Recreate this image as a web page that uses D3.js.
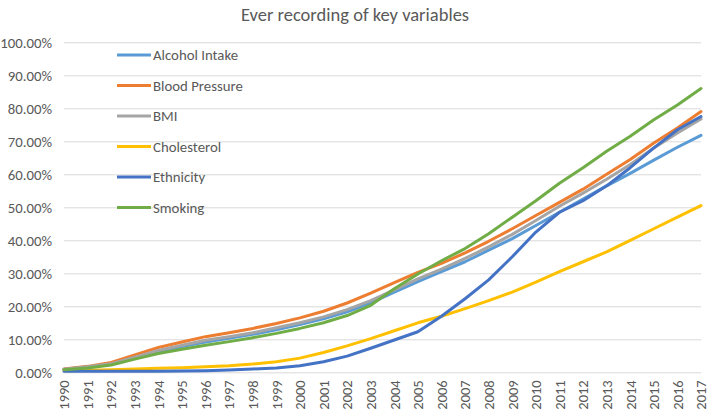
<!DOCTYPE html>
<html>
<head>
<meta charset="utf-8">
<script src="https://cdn.jsdelivr.net/npm/d3@7"></script>
<style>
  html, body { margin: 0; padding: 0; background: #fff; }
  svg { display: block; font-family: Calibri, Carlito, Lato, "Liberation Sans", Arial, sans-serif; }
</style>
</head>
<body>
<svg id="chart" width="709" height="414"></svg>
<script>
const title = "Ever recording of key variables";
const years = d3.range(1990, 2018).map(String);
const yTicks = [0, 10, 20, 30, 40, 50, 60, 70, 80, 90, 100];

const seriesNames = ["Alcohol Intake", "Blood Pressure", "BMI", "Cholesterol", "Ethnicity", "Smoking"];
const seriesColors = ["#5B9BD5", "#ED7D31", "#A5A5A5", "#FFC000", "#4472C4", "#70AD47"];

const alcoholIntake = [0.9, 1.6, 2.5, 4.3, 6.2, 7.8, 9.2, 10.3, 11.5, 12.9, 14.5, 16.2, 18.3, 21.0, 24.3, 27.5, 30.5, 33.5, 37.0, 40.5, 44.5, 48.5, 52.5, 56.5, 60.3, 64.3, 68.2, 71.8];
const bloodPressure = [1.0, 1.8, 3.0, 5.3, 7.5, 9.2, 10.8, 12.0, 13.3, 14.8, 16.5, 18.5, 21.0, 24.0, 27.2, 30.3, 33.0, 36.2, 39.7, 43.5, 47.5, 51.5, 55.5, 60.0, 64.5, 69.5, 74.0, 79.0];
const bmi = [0.9, 1.7, 2.6, 4.6, 6.6, 8.2, 9.7, 10.8, 12.0, 13.5, 15.0, 16.8, 19.0, 21.7, 25.0, 28.3, 31.3, 34.5, 38.0, 41.8, 46.0, 50.3, 54.3, 58.5, 63.0, 68.0, 72.5, 76.8];
const cholesterol = [0.5, 0.6, 0.8, 1.0, 1.2, 1.4, 1.7, 2.0, 2.5, 3.2, 4.3, 6.0, 8.0, 10.2, 12.6, 15.0, 17.0, 19.3, 21.7, 24.3, 27.3, 30.5, 33.5, 36.5, 40.0, 43.5, 47.0, 50.5];
const ethnicity = [0.3, 0.3, 0.3, 0.3, 0.3, 0.4, 0.5, 0.7, 1.0, 1.3, 2.0, 3.2, 4.9, 7.3, 9.8, 12.3, 17.0, 22.3, 28.0, 35.0, 42.5, 48.5, 52.0, 56.5, 62.0, 68.0, 73.5, 77.5];
const smoking = [0.8, 1.3, 2.2, 4.0, 5.7, 7.0, 8.2, 9.3, 10.5, 11.8, 13.3, 15.0, 17.2, 20.3, 25.3, 29.8, 33.8, 37.5, 42.0, 47.0, 52.0, 57.3, 62.0, 67.0, 71.5, 76.5, 81.0, 86.0];

const seriesValues = [alcoholIntake, bloodPressure, bmi, cholesterol, ethnicity, smoking];
const series = seriesNames.map((name, i) => ({
  name, color: seriesColors[i],
  values: seriesValues[i].map((v, j) => ({ year: years[j], value: v }))
}));

const svg = d3.select("#chart");
const margin = { left: 64, right: 8, top: 42.3, bottom: 41.7 };
const W = 709, H = 414;
const fontFam = "Calibri, Carlito, Lato, 'Liberation Sans', Arial, sans-serif";

const x = d3.scalePoint().domain(years).range([margin.left, W - margin.right]);
const y = d3.scaleLinear().domain([0, 100]).range([H - margin.bottom, margin.top]);

const textColor = "#595959";

// Title
svg.append("text")
  .attr("x", 355).attr("y", 21)
  .attr("text-anchor", "middle")
  .attr("font-size", 18.5)
  .attr("fill", textColor)
  .text(title);

// Gridlines + y labels
const yAxis = d3.axisLeft(y).tickValues(yTicks)
  .tickSize(-(W - margin.right - margin.left))
  .tickFormat(d => d3.format(".2f")(d) + "%")
  .tickPadding(12);
const gy = svg.append("g").attr("transform", `translate(${margin.left},0)`).call(yAxis);
gy.select(".domain").remove();
gy.selectAll(".tick line").attr("stroke", "#D9D9D9").attr("stroke-width", 1);
gy.selectAll(".tick text").attr("fill", textColor).attr("font-size", 14.8)
  .attr("font-family", fontFam);

// X axis labels
const xAxis = d3.axisBottom(x).tickSize(0);
const gx = svg.append("g").attr("transform", `translate(0,${H - margin.bottom})`).call(xAxis);
gx.select(".domain").remove();
gx.selectAll(".tick text")
  .attr("transform", "rotate(-90)")
  .attr("text-anchor", "end")
  .attr("x", -8).attr("y", 0).attr("dy", "0.33em")
  .attr("fill", textColor).attr("font-size", 14.5)
  .attr("font-family", fontFam);

// Lines
const line = d3.line().x(d => x(d.year)).y(d => y(d.value));
svg.append("g").selectAll("path").data(series).join("path")
  .attr("d", d => line(d.values))
  .attr("fill", "none")
  .attr("stroke", d => d.color)
  .attr("stroke-width", 3)
  .attr("stroke-linejoin", "round")
  .attr("stroke-linecap", "round");

// Legend
const legend = svg.append("g").attr("transform", "translate(117,55)");
const items = legend.selectAll("g").data(series).join("g")
  .attr("transform", (d, i) => `translate(0,${i * 30.5})`);
items.append("line").attr("x1", 0).attr("x2", 34).attr("y1", 0).attr("y2", 0)
  .attr("stroke", d => d.color).attr("stroke-width", 3);
items.append("text").attr("x", 36).attr("y", 0).attr("dy", "0.35em")
  .attr("font-size", 14.8).attr("fill", textColor).text(d => d.name);
</script>
</body>
</html>
